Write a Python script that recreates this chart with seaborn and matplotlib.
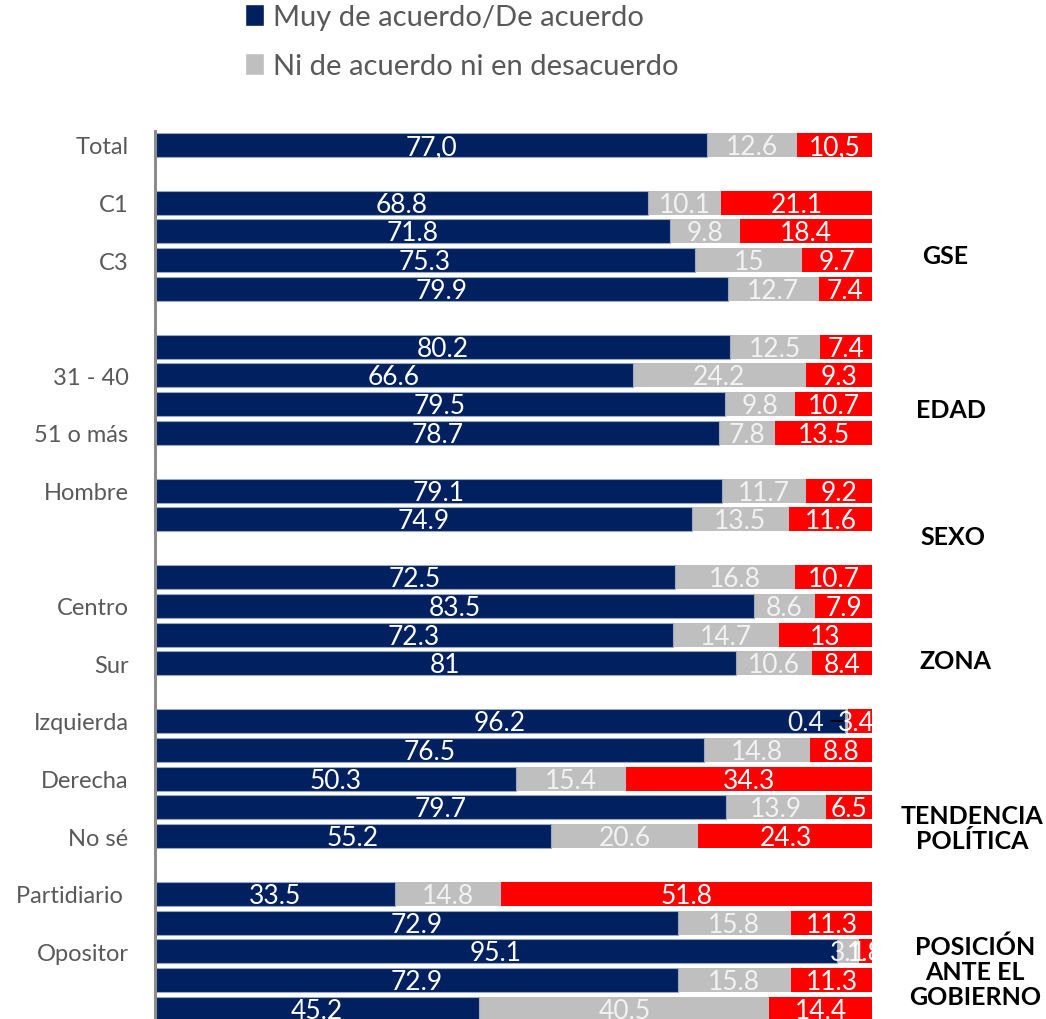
import matplotlib
matplotlib.use("Agg")
import matplotlib.pyplot as plt
import matplotlib.transforms as mtransforms
from matplotlib.patches import Patch
import seaborn as sns
import pandas as pd

# ---------------- data ----------------
tick_labels = ["Total", "", "C1", "", "C3", "", "", "", "31 - 40", "", "51 o más", "",
               "Hombre", "", "", "", "Centro", "", "Sur", "", "Izquierda", "", "Derecha", "",
               "No sé", "", "Partidiario ", "", "Opositor", "", ""]
acuerdo = [77.0, None, 68.8, 71.8, 75.3, 79.9, None, 80.2, 66.6, 79.5, 78.7, None,
           79.1, 74.9, None, 72.5, 83.5, 72.3, 81.0, None, 96.2, 76.5, 50.3, 79.7, 55.2,
           None, 33.5, 72.9, 95.1, 72.9, 45.2]
neutral = [12.6, None, 10.1, 9.8, 15.0, 12.7, None, 12.5, 24.2, 9.8, 7.8, None,
           11.7, 13.5, None, 16.8, 8.6, 14.7, 10.6, None, 0.4, 14.8, 15.4, 13.9, 20.6,
           None, 14.8, 15.8, 3.1, 15.8, 40.5]
desacuerdo = [10.5, None, 21.1, 18.4, 9.7, 7.4, None, 7.4, 9.3, 10.7, 13.5, None,
              9.2, 11.6, None, 10.7, 7.9, 13.0, 8.4, None, 3.4, 8.8, 34.3, 6.5, 24.3,
              None, 51.8, 11.3, 1.8, 11.3, 14.4]
label_override = {(0, 0): "77,0", (0, 2): "10,5"}
legend_labels = ["Muy de acuerdo/De acuerdo", "Ni de acuerdo ni en desacuerdo"]
groups = ["GSE", "EDAD", "SEXO", "ZONA", "TENDENCIA\nPOLÍTICA", "POSICIÓN\nANTE EL\nGOBIERNO"]
group_pos = [3.82, 9.17, 13.6, 17.9, 23.7, 28.7]
group_x = [945, 951, 953, 955, 972, 975]

NAVY = "#002060"
GRAY = "#BFBFBF"
RED = "#FF0000"

keys = [f"r{i:02d}" for i in range(len(tick_labels))]
df = pd.DataFrame({"key": keys, "a": acuerdo, "n": neutral, "d": desacuerdo})
df = df.dropna().copy()
df["c1"] = df["a"]
df["c2"] = df["a"] + df["n"]
df["c3"] = df["a"] + df["n"] + df["d"]

# ---------------- figure ----------------
W, H = 1046, 1020
fig = plt.figure(figsize=(W / 100, H / 100), dpi=100)
sns.set_style("white")
plt.rcParams["font.family"] = ["Lato", "DejaVu Sans"]

top_px, slot = 146 - 14.4, 28.8
bot_px = top_px + slot * 31
ax = fig.add_axes([155 / W, (H - bot_px) / H, 717 / W, (bot_px - top_px) / H])

bw = 0.83
sns.barplot(data=df, x="c3", y="key", order=keys, orient="h", color=RED, saturation=1,
            width=bw, errorbar=None, ax=ax, linewidth=0)
sns.barplot(data=df, x="c2", y="key", order=keys, orient="h", color=GRAY, saturation=1,
            width=bw, errorbar=None, ax=ax, linewidth=0)
sns.barplot(data=df, x="c1", y="key", order=keys, orient="h", color=NAVY, saturation=1,
            width=bw, errorbar=None, ax=ax, linewidth=0.8, edgecolor="#9AA8C4")

ax.set_xlim(0, 100)
ax.set_ylim(30.5, -0.5)
ax.set_xlabel("")
ax.set_ylabel("")
ax.set_xticks([])
ax.set_yticks(range(len(keys)))
ax.set_yticklabels(tick_labels, fontsize=17, color="#595959")
ax.tick_params(axis="y", length=0, pad=19)
for s in ["top", "right", "bottom"]:
    ax.spines[s].set_visible(False)
ax.spines["left"].set_color("#8C8C8C")
ax.spines["left"].set_linewidth(2.2)
ax.set_facecolor("none")

# data labels
for i in range(len(keys)):
    if acuerdo[i] is None:
        continue
    vals = [acuerdo[i], neutral[i], desacuerdo[i]]
    cols = ["white", "#F2F2F2", "white"]
    start = 0
    for j, v in enumerate(vals):
        txt = label_override.get((i, j), f"{v:g}")
        cx = start + v / 2
        if tick_labels[i] == "Izquierda":
            if j == 1:
                cx = 90.7
                ax.plot([94.3, 96.0], [i, i], color="black", lw=1.3, zorder=5)
            elif j == 2:
                cx = 97.8
        ax.text(cx, i + 0.05, txt, ha="center", va="center", color=cols[j],
                fontsize=19, clip_on=True, zorder=6)
        start += v

# group labels
btf = mtransforms.blended_transform_factory(fig.transFigure, ax.transData)
for g, y, xp in zip(groups, group_pos, group_x):
    ax.text(xp / W, y, g, transform=btf, ha="center", va="center", fontsize=18,
            fontweight="bold", color="black", linespacing=1.1)

# legend
handles = [Patch(facecolor=NAVY), Patch(facecolor=GRAY)]
fig.legend(handles, legend_labels, loc="upper left", bbox_to_anchor=(245 / W, 1 - 5 / H),
           frameon=False, labelcolor="#595959", handlelength=0.65,
           handleheight=0.75, handletextpad=0.3, labelspacing=0.8,
           borderpad=0, borderaxespad=0, prop={"size": 21})

fig.savefig("out.png", dpi=100)
